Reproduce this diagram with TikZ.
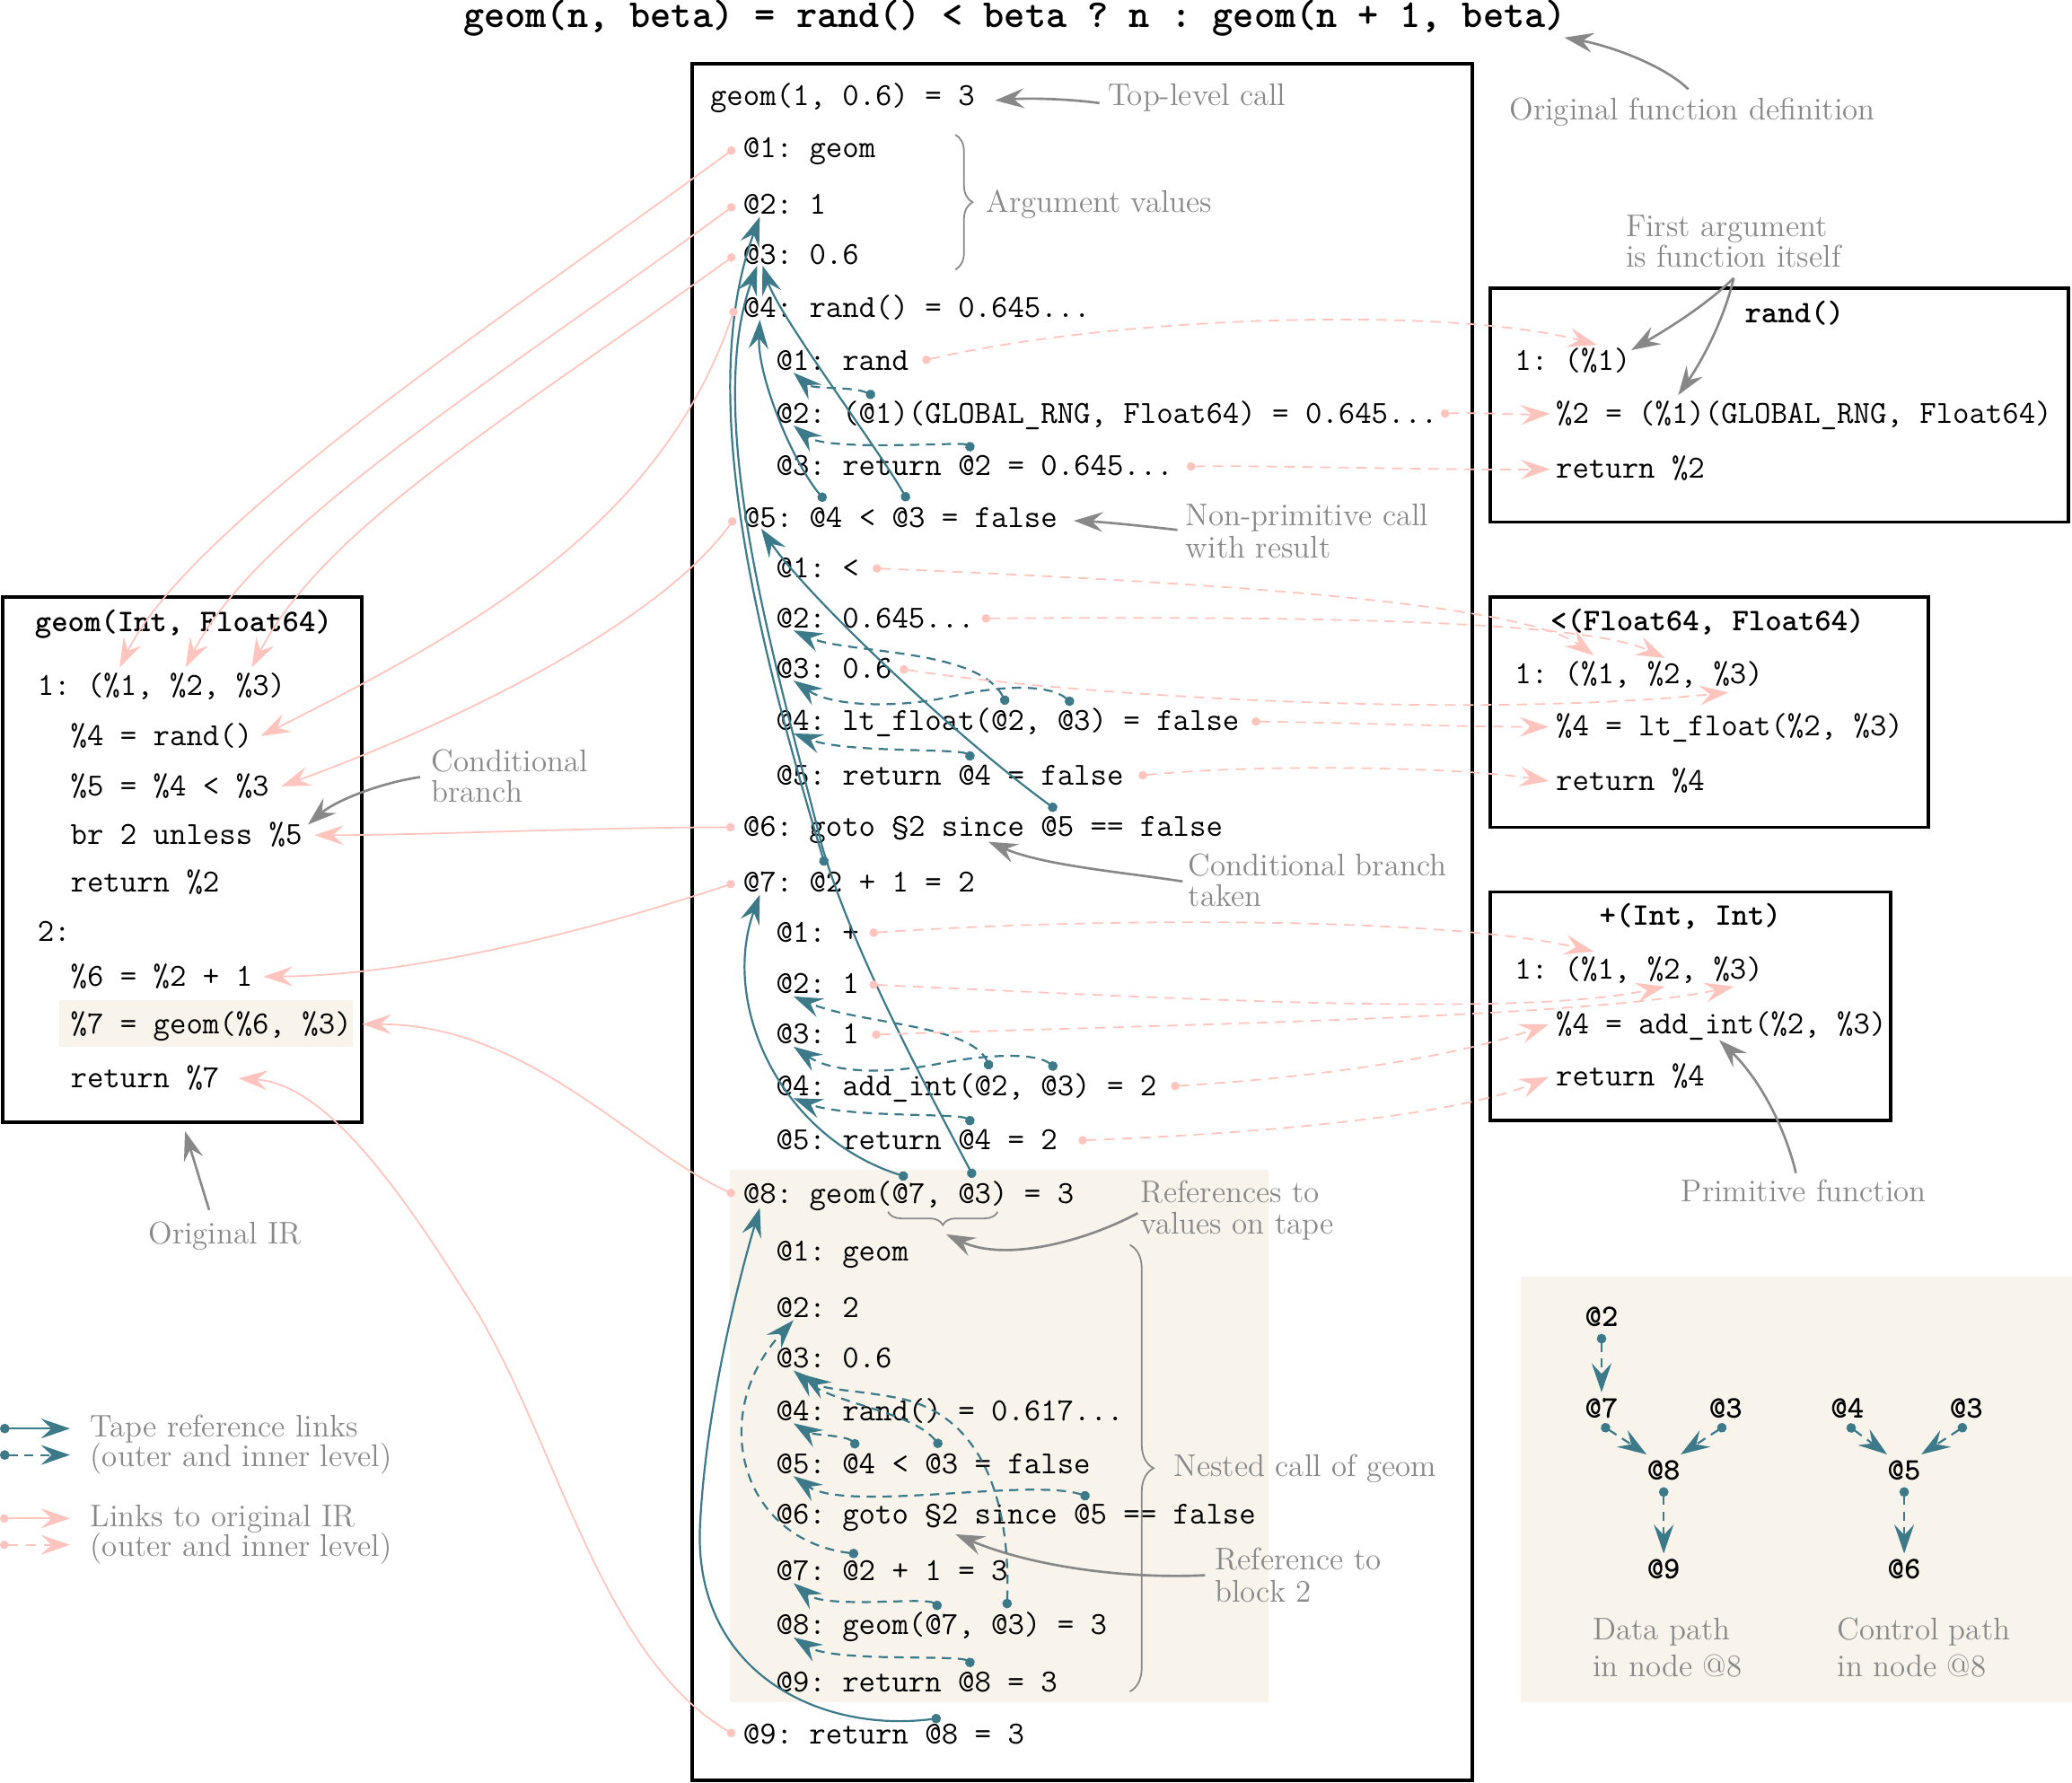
\documentclass[tikz,border=0pt]{standalone}
\usetikzlibrary{arrows.meta,decorations.pathreplacing}
\definecolor{tapecol}{RGB}{60,122,137}
\definecolor{ircol}{RGB}{255,196,189}
\definecolor{notecol}{RGB}{136,136,136}
\definecolor{beigecol}{RGB}{248,244,236}
\frenchspacing
\tikzset{
  mytip/.tip={Stealth[length=11pt,width=7.5pt,inset=4pt]},
  tapedot/.tip={Circle[length=3.6pt]},
  irdot/.tip={Circle[length=3.2pt]},
  codetxt/.style={anchor=west,inner sep=0pt,text height=9.5pt,text depth=2.5pt,font=\fontsize{12.15}{14}\selectfont\ttfamily\frenchspacing},
  codetxtb/.style={codetxt,font=\fontsize{11.9}{14}\selectfont\ttfamily\bfseries\frenchspacing},
  notetxt/.style={anchor=west,inner sep=0pt,text height=9.5pt,text depth=2.5pt,text=notecol,font=\fontsize{11.85}{14}\selectfont\rmfamily},
  tape/.style={draw=tapecol,line width=0.75pt,arrows={tapedot-mytip}},
  tapei/.style={tape,dash pattern=on 3.5pt off 2.5pt},
  ir/.style={draw=ircol,line width=0.6pt,arrows={irdot-mytip}},
  iri/.style={ir,dash pattern=on 4pt off 2.8pt},
  notearr/.style={draw=notecol,line width=0.9pt,arrows={-mytip}},
  boxst/.style={draw=black,line width=1.3pt},
  brc/.style={draw=notecol,line width=0.6pt,decorate,decoration={brace,amplitude=#1}},
}
\begin{document}
\begin{tikzpicture}[x=0.5pt,y=-0.5pt]
\useasboundingbox (0,0) rectangle (1568,1349);
% backgrounds
\fill[beigecol] (552,885) rectangle (960,1288);
\fill[beigecol] (45,757) rectangle (267,792);
\fill[beigecol] (1151,966) rectangle (1568,1288);
% boxes
\draw[boxst] (524,48) rectangle (1114,1347);
\draw[boxst] (2,452) rectangle (274,849);
\draw[boxst] (1128,218) rectangle (1565,395);
\draw[boxst] (1128,452) rectangle (1459,626);
\draw[boxst] (1128,675) rectangle (1431,848);
% title
\node[anchor=base,inner sep=0pt,font=\fontsize{15}{18}\selectfont\ttfamily\bfseries\frenchspacing,text height=12pt,text depth=3pt] (title) at (768,21) {geom(n, beta) = rand() < beta ? n : geom(n + 1, beta)};
% main tape
\node[codetxt] (m0) at (537,73) {geom(1, 0.6) = 3};
\node[codetxt] (o1) at (562,112) {@1: geom};
\node[codetxt] (o2) at (562,155) {@2: 1};
\node[codetxt] (o3) at (562,193) {@3: 0.6};
\node[codetxt] (o4) at (562,233) {@4: rand() = 0.645...};
\node[codetxt] (a1) at (587,273) {@1: rand};
\node[codetxt] (a2) at (587,313) {@2: (@1)(GLOBAL\_RNG, Float64) = 0.645...};
\node[codetxt] (a3) at (587,353) {@3: return @2 = 0.645...};
\node[codetxt] (o5) at (562,392) {@5: @4 < @3 = false};
\node[codetxt] (b1) at (587,430) {@1: <};
\node[codetxt] (b2) at (587,468) {@2: 0.645...};
\node[codetxt] (b3) at (587,506) {@3: 0.6};
\node[codetxt] (b4) at (587,546) {@4: lt\_float(@2, @3) = false};
\node[codetxt] (b5) at (587,587) {@5: return @4 = false};
\node[codetxt] (o6) at (562,626) {@6: goto §2 since @5 == false};
\node[codetxt] (o7) at (562,668) {@7: @2 + 1 = 2};
\node[codetxt] (c1) at (587,706) {@1: +};
\node[codetxt] (c2) at (587,745) {@2: 1};
\node[codetxt] (c3) at (587,783) {@3: 1};
\node[codetxt] (c4) at (587,822) {@4: add\_int(@2, @3) = 2};
\node[codetxt] (c5) at (587,863) {@5: return @4 = 2};
\node[codetxt] (o8) at (562,904) {@8: geom(@7, @3) = 3};
\node[codetxt] (n1) at (587,947) {@1: geom};
\node[codetxt] (n2) at (587,990) {@2: 2};
\node[codetxt] (n3) at (587,1028) {@3: 0.6};
\node[codetxt] (n4) at (587,1068) {@4: rand() = 0.617...};
\node[codetxt] (n5) at (587,1108) {@5: @4 < @3 = false};
\node[codetxt] (n6) at (587,1146) {@6: goto §2 since @5 == false};
\node[codetxt] (n7) at (587,1189) {@7: @2 + 1 = 3};
\node[codetxt] (n8) at (587,1230) {@8: geom(@7, @3) = 3};
\node[codetxt] (n9) at (587,1273) {@9: return @8 = 3};
\node[codetxt] (o9) at (562,1313) {@9: return @8 = 3};
% left box
\node[codetxtb] (l0) at (26,471) {geom(Int, Float64)};
\node[codetxt] (l1) at (28,519) {1: (\%1, \%2, \%3)};
\node[codetxt] (l2) at (53,557) {\%4 = rand()};
\node[codetxt] (l3) at (53,595) {\%5 = \%4 < \%3};
\node[codetxt] (l4) at (53,632) {br 2 unless \%5};
\node[codetxt] (l5) at (53,668) {return \%2};
\node[codetxt] (l6) at (28,705) {2:};
\node[codetxt] (l7) at (53,739) {\%6 = \%2 + 1};
\node[codetxt] (l8) at (53,775) {\%7 = geom(\%6, \%3)};
\node[codetxt] (l9) at (53,816) {return \%7};
% right boxes
\node[codetxtb] (r0) at (1320,237) {rand()};
\node[codetxt] (r1) at (1146,273) {1: (\%1)};
\node[codetxt] (r2) at (1177,313) {\%2 = (\%1)(GLOBAL\_RNG, Float64)};
\node[codetxt] (r3) at (1177,355) {return \%2};
\node[codetxtb] (s0) at (1173,470) {<(Float64, Float64)};
\node[codetxt] (s1) at (1146,510) {1: (\%1, \%2, \%3)};
\node[codetxt] (s2) at (1177,550) {\%4 = lt\_float(\%2, \%3)};
\node[codetxt] (s3) at (1177,591) {return \%4};
\node[codetxtb] (p0) at (1210,693) {+(Int, Int)};
\node[codetxt] (p1) at (1146,734) {1: (\%1, \%2, \%3)};
\node[codetxt] (p2) at (1177,775) {\%4 = add\_int(\%2, \%3)};
\node[codetxt] (p3) at (1177,815) {return \%4};
% notes
\node[notetxt] (nTop) at (838,73) {Top-level call};
\node[notetxt] (nArg) at (746,154) {Argument values};
\node[notetxt] (nOrig) at (1142,84) {Original function definition};
\node[notetxt] (nFirst1) at (1230,172) {First argument};
\node[notetxt] (nFirst2) at (1230,195) {is function itself};
\node[notetxt] (nNon1) at (897,391) {Non-primitive call};
\node[notetxt] (nNon2) at (897,415) {with result};
\node[notetxt] (nCond1) at (326,577) {Conditional};
\node[notetxt] (nCond2) at (326,600) {branch};
\node[notetxt] (nTak1) at (899,656) {Conditional branch};
\node[notetxt] (nTak2) at (899,679) {taken};
\node[notetxt] (nRef1) at (863,903) {References to};
\node[notetxt] (nRef2) at (863,927) {values on tape};
\node[notetxt] (nNest) at (888,1110) {Nested call of geom};
\node[notetxt] (nBlk1) at (919,1181) {Reference to};
\node[notetxt] (nBlk2) at (919,1205) {block 2};
\node[notetxt] (nPrim) at (1272,902) {Primitive function};
\node[notetxt] (nIR) at (112,934) {Original IR};
\node[notetxt] (lg1a) at (68,1080) {Tape reference links};
\node[notetxt] (lg1b) at (68,1103) {(outer and inner level)};
\node[notetxt] (lg2a) at (68,1148) {Links to original IR};
\node[notetxt] (lg2b) at (68,1171) {(outer and inner level)};
\node[notetxt] (dp1) at (1205,1234) {Data path};
\node[notetxt] (dp2) at (1205,1262) {in node @8};
\node[notetxt] (cp1) at (1390,1234) {Control path};
\node[notetxt] (cp2) at (1390,1262) {in node @8};
% braces
\draw[brc=6.5pt] (723,102) -- (723,204);
\draw[brc=5pt] (755,917) -- (672,917);
\draw[brc=9pt] (855,942) -- (855,1280);
% note arrows
\coordinate (irtip) at (140,856);
\draw[notearr] ([xshift=-3pt,yshift=-2.5pt]nTop.west) .. controls (810,75) and (780,74) .. ([xshift=7.5pt,yshift=-1.5pt]m0.east);
\draw[notearr] ([xshift=-1.5pt,yshift=2pt]nOrig.north) .. controls (1260,50) and (1220,35) .. ([xshift=-1pt,yshift=-0.5pt]title.south east);
\draw[notearr] ([xshift=41pt,yshift=-1.5pt]nFirst2.south west) .. controls (1290,232) and (1260,250) .. ([yshift=4pt]r1.east);
\draw[notearr] ([xshift=41pt,yshift=-1.5pt]nFirst2.south west) .. controls (1305,240) and (1290,270) .. ([xshift=46.5pt,yshift=7pt]r2.west);
\draw[notearr] ([xshift=-3pt,yshift=-5pt]nNon1.west) .. controls (865,398) and (835,395) .. ([xshift=6pt,yshift=-1pt]o5.east);
\draw[notearr] ([xshift=-4pt,yshift=-5.5pt]nCond1.west) .. controls (290,592) and (255,605) .. ([xshift=2pt,yshift=4pt]l4.east);
\draw[notearr] ([xshift=-2pt,yshift=-5.5pt]nTak1.west) .. controls (850,660) and (790,655) .. ([xshift=93pt,yshift=-5.5pt]o6.west);
\draw[notearr] ([xshift=-1pt,yshift=-7.5pt]nRef1.west) .. controls (820,940) and (760,955) .. ([xshift=77pt,yshift=-15pt]o8.west);
\draw[notearr] ([xshift=-3.5pt,yshift=-5.5pt]nBlk1.west) .. controls (850,1195) and (780,1185) .. ([xshift=68pt,yshift=-7.5pt]n6.west);
\draw[notearr] ([xshift=-3pt,yshift=1pt]nPrim.north) .. controls (1350,850) and (1330,815) .. ([xshift=62pt,yshift=-6pt]p2.west);
\draw[notearr] ([xshift=-6pt,yshift=3pt]nIR.north) -- (irtip);
% tape references, outer level
\draw[tape] ([xshift=31.25pt,yshift=6.5pt]o5.west) .. controls (600,350) and (573,285) .. ([xshift=6.5pt,yshift=-4.5pt]o4.west);
\draw[tape] ([xshift=62.5pt,yshift=6.5pt]o5.west) .. controls (665,340) and (590,240) .. ([xshift=7.5pt,yshift=-4pt]o3.west);
\draw[tape] ([xshift=118.75pt,yshift=6.5pt]o6.west) .. controls (720,555) and (610,450) .. ([xshift=7pt,yshift=-4pt]o5.west);
\draw[tape] ([xshift=31.25pt,yshift=6.5pt]o7.west) .. controls (575,490) and (525,300) .. ([xshift=6.5pt,yshift=-4.5pt]o2.west);
\draw[tape] ([xshift=87.5pt,yshift=6.5pt]o8.west) .. controls (705,830) and (645,720) .. (622,640) .. controls (592,520) and (530,320) .. ([xshift=5.5pt,yshift=-4pt]o3.west);
\draw[tape] ([xshift=62.5pt,yshift=6.5pt]o8.west) .. controls (590,860) and (545,760) .. ([xshift=6.5pt,yshift=-4.5pt]o7.west);
\draw[tape] ([xshift=75pt,yshift=6.5pt]o9.west) .. controls (620,1312) and (522,1265) .. (530,1150) .. controls (535,1060) and (560,965) .. ([xshift=6.5pt,yshift=-5pt]o8.west);
% tape references, inner level
\draw[tapei] ([xshift=37.5pt,yshift=6.5pt]a2.west) .. controls (645,292) and (615,295) .. ([xshift=6.75pt,yshift=-4.5pt]a1.west);
\draw[tapei] ([xshift=75pt,yshift=6.5pt]a3.west) .. controls (728,334) and (625,342) .. ([xshift=6.75pt,yshift=-4.5pt]a2.west);
\draw[tapei] ([xshift=87.5pt,yshift=6.5pt]b4.west) .. controls (740,490) and (640,495) .. ([xshift=6.75pt,yshift=-4.5pt]b2.west);
\draw[tapei] ([xshift=112.5pt,yshift=6.5pt]b4.west) .. controls (795,518) and (760,518) .. (720,527) .. controls (680,536) and (630,535) .. ([xshift=6.75pt,yshift=-4.5pt]b3.west);
\draw[tapei] ([xshift=75pt,yshift=6.5pt]b5.west) .. controls (725,566) and (640,570) .. ([xshift=6.75pt,yshift=-4.5pt]b4.west);
\draw[tapei] ([xshift=81.25pt,yshift=6.5pt]c4.west) .. controls (735,775) and (650,775) .. ([xshift=6.75pt,yshift=-4.5pt]c2.west);
\draw[tapei] ([xshift=106.25pt,yshift=6.5pt]c4.west) .. controls (785,797) and (750,797) .. (710,805) .. controls (670,813) and (630,812) .. ([xshift=6.75pt,yshift=-4.5pt]c3.west);
\draw[tapei] ([xshift=75pt,yshift=6.5pt]c5.west) .. controls (725,842) and (640,846) .. ([xshift=6.75pt,yshift=-4.5pt]c4.west);
\draw[tapei] ([xshift=31.25pt,yshift=6.5pt]n5.west) .. controls (640,1086) and (615,1086) .. ([xshift=6.75pt,yshift=-4.5pt]n4.west);
\draw[tapei] ([xshift=62.5pt,yshift=6.5pt]n5.west) .. controls (690,1068) and (630,1062) .. ([xshift=6.75pt,yshift=-4.5pt]n3.west);
\draw[tapei] ([xshift=118.75pt,yshift=6.5pt]n6.west) .. controls (780,1118) and (640,1145) .. ([xshift=6.75pt,yshift=-4.5pt]n5.west);
\draw[tapei] ([xshift=31.25pt,yshift=6.5pt]n7.west) .. controls (560,1165) and (535,1070) .. ([xshift=6.75pt,yshift=-4.5pt]n2.west);
\draw[tapei] ([xshift=62.5pt,yshift=6.5pt]n8.west) .. controls (700,1208) and (625,1218) .. ([xshift=6.75pt,yshift=-4.5pt]n7.west);
\draw[tapei] ([xshift=87.5pt,yshift=6.5pt]n8.west) .. controls (765,1130) and (740,1070) .. (680,1058) .. controls (650,1052) and (625,1052) .. ([xshift=10pt,yshift=-6pt]n3.west);
\draw[tapei] ([xshift=75pt,yshift=6.5pt]n9.west) .. controls (725,1252) and (630,1258) .. ([xshift=6.75pt,yshift=-4.5pt]n8.west);
% links to original IR, outer level
\draw[ir] ([xshift=-3pt]o1.west) .. controls (386,237) and (145,395) .. ([xshift=31.25pt,yshift=7pt]l1.west);
\draw[ir] ([xshift=-3pt]o2.west) .. controls (386,280) and (196,396) .. ([xshift=56.25pt,yshift=7pt]l1.west);
\draw[ir] ([xshift=-3pt]o3.west) .. controls (386,316) and (246,398) .. ([xshift=81.25pt,yshift=7pt]l1.west);
\draw[ir] ([xshift=-3pt]o4.west) .. controls (500,400) and (350,480) .. ([xshift=3pt]l2.east);
\draw[ir] ([xshift=-3pt]o5.west) .. controls (500,470) and (350,545) .. ([xshift=4.5pt]l3.east);
\draw[ir] ([xshift=-3pt]o6.west) .. controls (450,626) and (320,632) .. ([xshift=4.5pt]l4.east);
\draw[ir] ([xshift=-3pt]o7.west) .. controls (460,700) and (320,738) .. ([xshift=4pt]l7.east);
\draw[ir] ([xshift=-3pt]o8.west) .. controls (480,870) and (400,775) .. ([xshift=3.75pt]l8.east);
\draw[ir] ([xshift=-3pt]o9.west) .. controls (450,1250) and (420,1080) .. (351,977) .. controls (290,880) and (240,820) .. ([xshift=7pt]l9.east);
% links to original IR, inner level
\draw[iri] ([xshift=5pt]a1.east) .. controls (850,238) and (1100,232) .. ([xshift=31.25pt,yshift=6pt]r1.west);
\draw[iri] ([xshift=1pt]a2.east) .. controls (1120,312) and (1150,314) .. ([xshift=-2pt]r2.west);
\draw[iri] ([xshift=5pt]a3.east) .. controls (960,352) and (1100,356) .. ([xshift=-2pt]r3.west);
\draw[iri] ([xshift=5pt]b1.east) .. controls (900,440) and (1150,455) .. ([xshift=30pt,yshift=7pt]s1.west);
\draw[iri] ([xshift=2.5pt]b2.east) .. controls (1000,466) and (1200,470) .. ([xshift=57pt,yshift=6pt]s1.west);
\draw[iri] ([xshift=2.75pt]b3.east) .. controls (800,525) and (1100,545) .. ([xshift=81pt,yshift=-7pt]s1.west);
\draw[iri] ([xshift=4.5pt]b4.east) .. controls (1030,547) and (1100,550) .. ([xshift=-2.5pt]s2.west);
\draw[iri] ([xshift=5.5pt]b5.east) .. controls (950,578) and (1100,580) .. ([xshift=-2.5pt]s3.west);
\draw[iri] ([xshift=3.75pt]c1.east) .. controls (850,693) and (1100,695) .. ([xshift=30pt,yshift=7pt]p1.west);
\draw[iri] ([xshift=3.75pt]c2.east) .. controls (900,756) and (1150,770) .. ([xshift=57pt,yshift=-6.25pt]p1.west);
\draw[iri] ([xshift=4.75pt]c3.east) .. controls (900,775) and (1200,770) .. ([xshift=83pt,yshift=-6.25pt]p1.west);
\draw[iri] ([xshift=5.25pt]c4.east) .. controls (1000,815) and (1100,800) .. ([xshift=-2.5pt]p2.west);
\draw[iri] ([xshift=7.75pt]c5.east) .. controls (950,858) and (1100,845) .. ([xshift=-2.5pt]p3.west);
% legend left
\coordinate (lgA1) at (0,1081); \coordinate (lgB1) at (53,1081);
\coordinate (lgA2) at (0,1101); \coordinate (lgB2) at (53,1101);
\coordinate (lgA3) at (0,1149); \coordinate (lgB3) at (53,1149);
\coordinate (lgA4) at (0,1169); \coordinate (lgB4) at (53,1169);
\draw[tape] (lgA1) -- (lgB1);
\draw[tapei] (lgA2) -- (lgB2);
\draw[ir] (lgA3) -- (lgB3);
\draw[iri] (lgA4) -- (lgB4);
% legend right: data and control path
\node[codetxtb,anchor=center] (dA2) at (1212,997) {@2};
\node[codetxtb,anchor=center] (dA7) at (1212,1066) {@7};
\node[codetxtb,anchor=center] (dA3) at (1306,1066) {@3};
\node[codetxtb,anchor=center] (dA8) at (1259,1113) {@8};
\node[codetxtb,anchor=center] (dA9) at (1259,1188) {@9};
\node[codetxtb,anchor=center] (cA4) at (1398,1066) {@4};
\node[codetxtb,anchor=center] (cA3) at (1488,1066) {@3};
\node[codetxtb,anchor=center] (cA5) at (1441,1113) {@5};
\node[codetxtb,anchor=center] (cA6) at (1441,1188) {@6};
\draw[tapei] (dA2.south) -- (dA7.north);
\draw[tapei] (dA7.south) -- (dA8.north west);
\draw[tapei] (dA3.south) -- (dA8.north east);
\draw[tapei] (dA8.south) -- (dA9.north);
\draw[tapei] (cA4.south) -- (cA5.north west);
\draw[tapei] (cA3.south) -- (cA5.north east);
\draw[tapei] (cA5.south) -- (cA6.north);
\end{tikzpicture}
\end{document}
